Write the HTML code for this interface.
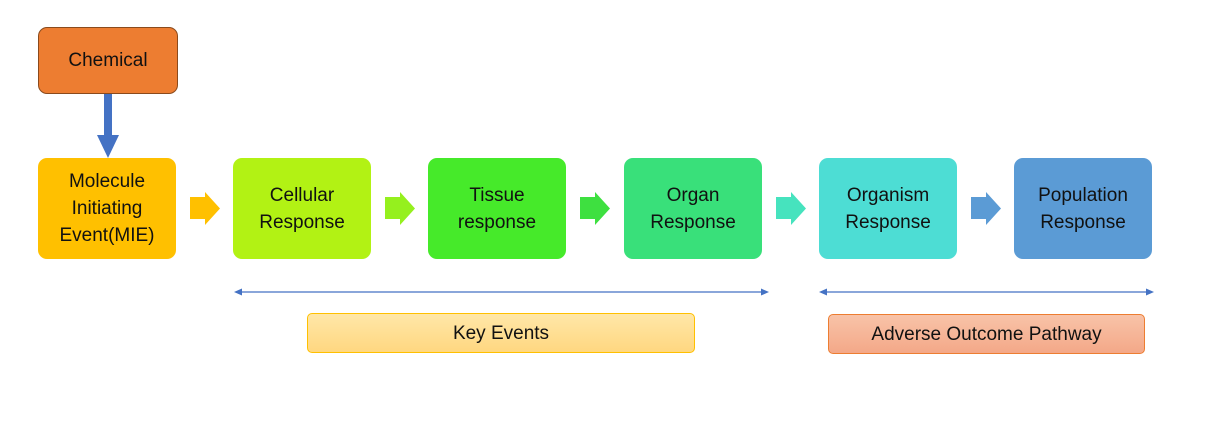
<!DOCTYPE html>
<html><head><style>
body{margin:0;width:1205px;height:425px;background:#fff;position:relative;font-family:"Liberation Sans",sans-serif;overflow:hidden}
.b{position:absolute;border-radius:9px;display:flex;align-items:center;justify-content:center;text-align:center;font-size:19px;line-height:27px;color:#111;box-sizing:border-box}
.m{top:158px;height:101px;width:138px}
</style></head><body>
<div class="b" style="left:38px;top:27px;width:140px;height:67px;background:#ED7D31;border:1px solid #8a4a1c">Chemical</div>
<div class="b m" style="left:38px;background:#FFC000">Molecule<br>Initiating<br>Event(MIE)</div>
<div class="b m" style="left:233px;background:#B2F214">Cellular<br>Response</div>
<div class="b m" style="left:428px;background:#46EA2A">Tissue<br>response</div>
<div class="b m" style="left:624px;background:#39E07A">Organ<br>Response</div>
<div class="b m" style="left:819px;background:#4DDDD4">Organism<br>Response</div>
<div class="b m" style="left:1014px;background:#5B9BD5">Population<br>Response</div>
<svg width="1205" height="425" style="position:absolute;left:0;top:0">
<polygon points="104,94 112,94 112,135 119,135 108,158 97,135 104,135" fill="#4472C4"/>
<g>
<polygon points="190,197 205,197 205,192 220,208.5 205,225 205,219 190,219" fill="#FFC000"/>
<polygon points="385,197 400,197 400,192 415,208.5 400,225 400,219 385,219" fill="#95F01E"/>
<polygon points="580,197 595,197 595,192 610,208.5 595,225 595,219 580,219" fill="#3EE040"/>
<polygon points="776,197 791,197 791,192 806,208.5 791,225 791,219 776,219" fill="#46E3BE"/>
<polygon points="971,197 986,197 986,192 1001,208.5 986,225 986,219 971,219" fill="#5B9BD5"/>
</g>
<g stroke="#4472C4" stroke-width="1.3">
<line x1="240" y1="292" x2="763" y2="292"/>
<line x1="825" y1="292" x2="1148" y2="292"/>
</g>
<g fill="#4472C4">
<polygon points="234,292 242,288.5 242,295.5"/><polygon points="769,292 761,288.5 761,295.5"/>
<polygon points="819,292 827,288.5 827,295.5"/><polygon points="1154,292 1146,288.5 1146,295.5"/>
</g>
</svg>
<div class="b" style="left:307px;top:313px;width:388px;height:40px;border-radius:5px;border:1px solid #FFC000;background:linear-gradient(#FFE7A8,#FFD780)">Key Events</div>
<div class="b" style="left:828px;top:314px;width:317px;height:40px;border-radius:5px;border:1px solid #ED7D31;background:linear-gradient(#F8C3A8,#F4A888)">Adverse Outcome Pathway</div>
</body></html>
